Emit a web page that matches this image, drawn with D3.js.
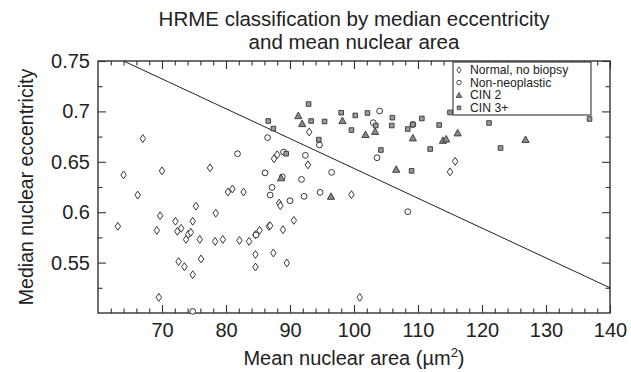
<!DOCTYPE html>
<html>
<head>
<meta charset="utf-8">
<script src="https://cdn.jsdelivr.net/npm/d3@7"></script>
<style>
  body { margin: 0; background: #fff; }
  svg { display: block; font-family: "Liberation Sans", Arial, Helvetica, sans-serif; }
</style>
</head>
<body>
<div id="chart"></div>
<script>
// values: [mean nuclear area, median eccentricity]
const normal = [
  [63.1, 0.586], [64, 0.637], [66.2, 0.617], [67, 0.673], [69.2, 0.582], [69.5, 0.5155],
  [69.7, 0.5965], [70, 0.641], [72.1, 0.591], [72.4, 0.581], [72.6, 0.551], [73, 0.584],
  [73.5, 0.546], [73.75, 0.573], [74.1, 0.578], [74.5, 0.580], [74.8, 0.591], [74.8, 0.538],
  [75.3, 0.606], [75.9, 0.573], [76.1, 0.5536], [77.5, 0.644], [78.3, 0.571], [78.4, 0.599],
  [79.5, 0.573], [80.3, 0.620], [81, 0.623], [82.1, 0.572], [82.75, 0.620], [83.6, 0.571],
  [84.6, 0.5777], [84.6, 0.558], [84.6, 0.5456], [85.25, 0.582], [86.7, 0.586], [86.9, 0.5866],
  [87.4, 0.5595], [87.5, 0.653], [88, 0.657], [88.3, 0.609], [88.5, 0.6065], [88.9, 0.5826],
  [89.5, 0.5496], [90.6, 0.5919], [92.8, 0.647], [93, 0.6795], [99.6, 0.6174], [100.9, 0.5155],
  [115, 0.640], [115.8, 0.6504]
];
const nonNeoplastic = [
  [74.8, 0.5016], [81.8, 0.658], [84.7, 0.5774], [86.1, 0.639], [86.5, 0.674], [86.9, 0.617],
  [87.2, 0.6246], [88.8, 0.635], [89, 0.6597], [90, 0.6114], [91.8, 0.6325], [92.2, 0.6157],
  [92.4, 0.6564], [94.6, 0.6667], [94.7, 0.6197], [96.5, 0.6395], [103, 0.6888], [103.6, 0.654],
  [104, 0.7004], [108.4, 0.6005], [109.2, 0.687]
];
const cin2 = [
  [88.6, 0.634], [91.3, 0.6957], [91.9, 0.6878], [96.4, 0.6157], [98.2, 0.6908], [101.8, 0.677],
  [103.3, 0.680], [106.6, 0.6425], [109.2, 0.6736], [113.9, 0.6712], [114.4, 0.6726],
  [116.2, 0.6786], [126.8, 0.672]
];
const cin3 = [
  [86.6, 0.6905], [87.4, 0.683], [89.4, 0.658], [92.9, 0.7073], [93.3, 0.6905], [94.5, 0.672],
  [95.4, 0.690], [98, 0.6987], [99.6, 0.6815], [100.2, 0.696], [102.1, 0.6984], [103.4, 0.686],
  [104.2, 0.6617], [105.9, 0.686], [106, 0.6938], [108.4, 0.6825], [109, 0.641], [109.2, 0.687],
  [110.6, 0.693], [111.9, 0.6627], [113.3, 0.6865], [115, 0.699], [121.1, 0.6885],
  [122.9, 0.6637], [136.8, 0.6925]
];
// decision line
const boundary = [[64, 0.75], [140, 0.525]];

const xTicks = [70, 80, 90, 100, 110, 120, 130, 140];
const yTicks = [0.55, 0.6, 0.65, 0.7, 0.75];
const legendLabels = ['Normal, no biopsy', 'Non-neoplastic', 'CIN 2', 'CIN 3+'];

const W = 631, H = 372;
const margin = { top: 61, right: 21, bottom: 59, left: 98 };
const width = W - margin.left - margin.right;
const height = H - margin.top - margin.bottom;

const svg = d3.select('#chart').append('svg')
  .attr('width', W)
  .attr('height', H);

const g = svg.append('g')
  .attr('transform', `translate(${margin.left},${margin.top})`);

const x = d3.scaleLinear().domain([60, 140]).range([0, width]);
const y = d3.scaleLinear().domain([0.5, 0.75]).range([height, 0]);

const axisColor = '#333';
const minorX = d3.range(62, 140, 2).filter(v => v % 10 !== 0);
const minorY = d3.range(0.525, 0.75, 0.05);

// ticks on all four sides, pointing inward
function styleAxis(sel) {
  sel.select('.domain').remove();
  sel.selectAll('line').attr('stroke', axisColor).attr('stroke-width', 1.1);
  sel.selectAll('text').attr('fill', '#222').attr('font-size', 20)
    .attr('font-family', '"Liberation Sans", Arial, sans-serif');
}

g.append('g').attr('transform', `translate(0,${height})`)
  .call(d3.axisBottom(x).tickValues(xTicks).tickSize(-8).tickPadding(10).tickFormat(d3.format('d')))
  .call(styleAxis);
g.append('g').attr('transform', `translate(0,${height})`)
  .call(d3.axisBottom(x).tickValues(minorX).tickSize(-4.5).tickFormat(''))
  .call(styleAxis);
g.append('g')
  .call(d3.axisTop(x).tickValues(xTicks).tickSize(-8).tickFormat(''))
  .call(styleAxis);
g.append('g')
  .call(d3.axisTop(x).tickValues(minorX).tickSize(-4.5).tickFormat(''))
  .call(styleAxis);

g.append('g')
  .call(d3.axisLeft(y).tickValues(yTicks).tickSize(-8).tickPadding(8).tickFormat(d => String(+d.toFixed(2))))
  .call(styleAxis);
g.append('g')
  .call(d3.axisLeft(y).tickValues(minorY).tickSize(-4.5).tickFormat(''))
  .call(styleAxis);
g.append('g').attr('transform', `translate(${width},0)`)
  .call(d3.axisRight(y).tickValues(yTicks).tickSize(-8).tickFormat(''))
  .call(styleAxis);
g.append('g').attr('transform', `translate(${width},0)`)
  .call(d3.axisRight(y).tickValues(minorY).tickSize(-4.5).tickFormat(''))
  .call(styleAxis);

// frame
g.append('rect')
  .attr('width', width).attr('height', height)
  .attr('fill', 'none').attr('stroke', axisColor).attr('stroke-width', 1.4);

// boundary line
g.append('path')
  .datum(boundary)
  .attr('fill', 'none')
  .attr('stroke', '#222')
  .attr('stroke-width', 1)
  .attr('d', d3.line().x(d => x(d[0])).y(d => y(d[1])));

// marker shapes
const shapes = {
  diamond: s => `M0,${-s * 0.72}L${s * 0.5},0L0,${s * 0.72}L${-s * 0.5},0Z`,
  circle: s => d3.symbol(d3.symbolCircle, Math.PI * (s / 2) * (s / 2))(),
  triangle: s => `M0,${-s * 0.55}L${s * 0.55},${s * 0.45}L${-s * 0.55},${s * 0.45}Z`,
  square: s => `M${-s / 2},${-s / 2}h${s}v${s}h${-s}Z`
};

const series = [
  { name: legendLabels[0], data: normal, shape: 'diamond', size: 5.5, fill: '#fff', stroke: '#222' },
  { name: legendLabels[1], data: nonNeoplastic, shape: 'circle', size: 5.8, fill: '#fff', stroke: '#222' },
  { name: legendLabels[2], data: cin2, shape: 'triangle', size: 6.5, fill: '#8a8a8a', stroke: '#333' },
  { name: legendLabels[3], data: cin3, shape: 'square', size: 4.6, fill: '#9a9a9a', stroke: '#333' }
];

series.forEach(s => {
  g.append('g').selectAll('path')
    .data(s.data)
    .enter()
    .append('path')
    .attr('transform', d => `translate(${x(d[0])},${y(d[1])})`)
    .attr('d', shapes[s.shape](s.size))
    .attr('fill', s.fill)
    .attr('stroke', s.stroke)
    .attr('stroke-width', 0.9);
});

// legend
const legend = svg.append('g').attr('transform', 'translate(453,62)');
legend.append('rect')
  .attr('width', 138).attr('height', 53)
  .attr('fill', '#fff').attr('stroke', '#333').attr('stroke-width', 1.1);
series.forEach((s, i) => {
  const row = legend.append('g').attr('transform', `translate(6,${8 + i * 12.6})`);
  row.append('path')
    .attr('d', shapes[s.shape](s.size * 0.78))
    .attr('fill', s.fill).attr('stroke', s.stroke).attr('stroke-width', 0.8);
  row.append('text')
    .attr('x', 11).attr('dy', '0.35em')
    .attr('font-size', 12.2).attr('fill', '#222')
    .text(s.name);
});

// titles
svg.append('text')
  .attr('x', margin.left + width / 2).attr('y', 26)
  .attr('text-anchor', 'middle').attr('font-size', 20.5).attr('fill', '#222')
  .text('HRME classification by median eccentricity');
svg.append('text')
  .attr('x', margin.left + width / 2).attr('y', 49)
  .attr('text-anchor', 'middle').attr('font-size', 20.5).attr('fill', '#222')
  .text('and mean nuclear area');

const xLabel = svg.append('text')
  .attr('x', margin.left + width / 2).attr('y', 365)
  .attr('text-anchor', 'middle').attr('font-size', 20).attr('fill', '#222');
xLabel.append('tspan').text('Mean nuclear area (\u00b5m');
xLabel.append('tspan').attr('font-size', 13).attr('dy', -8).text('2');
xLabel.append('tspan').attr('dy', 8).text(')');

svg.append('text')
  .attr('transform', `translate(33,${margin.top + height / 2}) rotate(-90)`)
  .attr('text-anchor', 'middle').attr('font-size', 19.5).attr('fill', '#222')
  .text('Median nuclear eccentricity');
</script>
</body>
</html>
